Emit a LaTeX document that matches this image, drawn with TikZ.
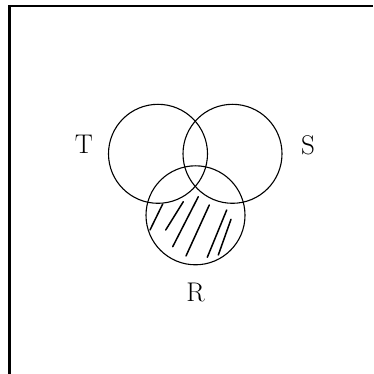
\documentclass[tikz,border=0pt]{standalone}
\usepackage{fontspec}
\usepackage{tikz}
\usetikzlibrary{positioning}

\begin{document}
\begin{tikzpicture}[
    x=1pt, y=-1pt,
    ring/.style={circle, draw, line width=1.1pt, minimum size=99pt, inner sep=0pt},
    setname/.style={inner sep=0pt, font=\fontsize{27}{32}\selectfont},
    hatch/.style={line width=1.5pt, line cap=round},
    frame/.style={line width=2.2pt}
]
\useasboundingbox (0,0) rectangle (373,374);

% open frame, top and left side only
\draw[frame] (9.5,374) -- (9.5,6) -- (373,6);

\node[ring] (ringT) at (158,153.8) {};
\node[ring] (ringS) at (232.5,153.8) {};
\node[ring] (ringR) at (195.5,215.3) {};

\node[setname] (labT) at (84,144) {T};
\node[setname] (labS) at (308,145) {S};
\node[setname] (labR) at (195.5,292) {R};

% hand hatching of R outside T and S
\draw[hatch] (162.7,204) -- (150,230);
\draw[hatch] (183.3,201.7) -- (165.7,230);
\draw[hatch] (198.3,196.7) -- (172.7,246.7);
\draw[hatch] (209.3,205) -- (186,256);
\draw[hatch] (226.7,210) -- (207.3,257.3);
\draw[hatch] (231,219.3) -- (218.3,255);

\end{tikzpicture}
\end{document}
